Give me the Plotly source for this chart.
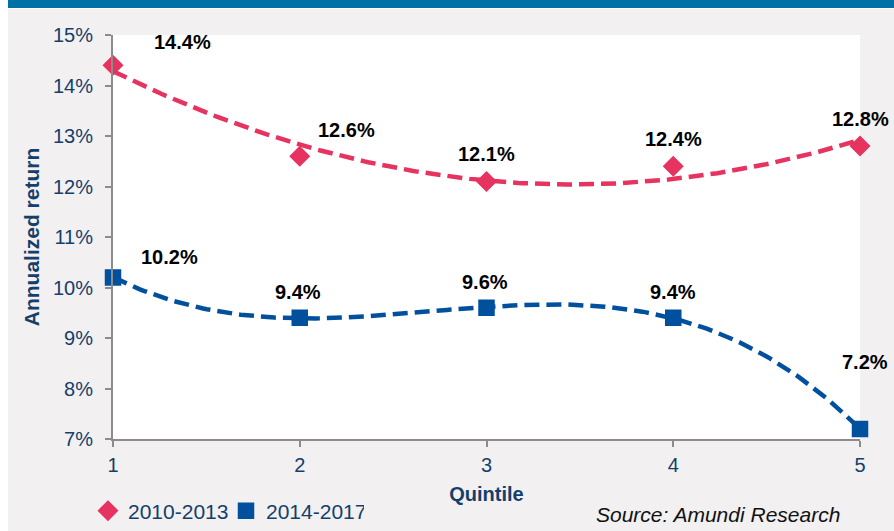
import numpy as np
import plotly.graph_objects as go

# ---- data ----
quintiles = [1, 2, 3, 4, 5]
series_names = ["2010-2013", "2014-2017"]
returns_2010_2013 = [14.4, 12.6, 12.1, 12.4, 12.8]
returns_2014_2017 = [10.2, 9.4, 9.6, 9.4, 7.2]
trend_order_2010_2013 = 2   # polynomial trendline order (as in source chart)
trend_order_2014_2017 = 3
y_ticks = [7, 8, 9, 10, 11, 12, 13, 14, 15]
y_tick_labels = ["7%", "8%", "9%", "10%", "11%", "12%", "13%", "14%", "15%"]
x_ticks = [1, 2, 3, 4, 5]

# ---- styles ----
PINK = "#E6335F"
BLUE = "#00509E"
NAVY = "#143F6B"
BG = "#F2F0F1"
FONT = "Liberation Sans, Arial, sans-serif"

W, H = 894, 531
L, R, T, B = 113, 34, 35, 92
PW = W - L - R
PH = H - T - B


def px_x(p):
    return (p - L) / PW


def px_y(p):
    return (H - B - p) / PH


fig = go.Figure()

x_fit = np.linspace(quintiles[0], quintiles[-1], 200)
for name, vals, order, color in [
    (series_names[0], returns_2010_2013, trend_order_2010_2013, PINK),
    (series_names[1], returns_2014_2017, trend_order_2014_2017, BLUE),
]:
    coef = np.polyfit(quintiles, vals, order)
    fig.add_trace(go.Scatter(
        x=x_fit, y=np.polyval(coef, x_fit), mode="lines",
        line=dict(color=color, width=4.5, dash="15px,7px"),
        showlegend=False, hoverinfo="skip", cliponaxis=False,
    ))

fig.add_trace(go.Scatter(
    x=quintiles, y=returns_2010_2013, mode="markers", name=series_names[0],
    marker=dict(symbol="diamond", size=14, color=PINK,
                line=dict(color=PINK, width=2)),
    cliponaxis=False,
))
fig.add_trace(go.Scatter(
    x=quintiles, y=returns_2014_2017, mode="markers", name=series_names[1],
    marker=dict(symbol="square", size=15, color=BLUE,
                line=dict(color=BLUE, width=1.5)),
    cliponaxis=False,
))

# data labels (pixel offsets from each point)
offsets_a = [(69, 23), (47, 26), (0, 27), (0, 27), (0, 27)]
offsets_b = [(56, 20), (-2, 26), (-2, 26), (0, 26), (5, 67)]
for vals, offs in [(returns_2010_2013, offsets_a), (returns_2014_2017, offsets_b)]:
    for xq, v, (dx, dy) in zip(quintiles, vals, offs):
        fig.add_annotation(
            x=xq, y=v, xref="x", yref="y", text=f"<b>{v:.1f}%</b>",
            showarrow=False, xshift=dx, yshift=dy,
            font=dict(family=FONT, size=20, color="#000000"),
        )

fig.add_annotation(
    x=px_x(842), y=px_y(514), xref="paper", yref="paper",
    xanchor="right", yanchor="middle", showarrow=False,
    text="<i>Source: Amundi Research</i>",
    font=dict(family=FONT, size=21, color="#111111"),
)

# page decoration: white left strip and blue top band
fig.add_shape(type="rect", xref="paper", yref="paper",
              x0=px_x(-2), x1=px_x(8), y0=px_y(H + 2), y1=px_y(-2),
              fillcolor="#FFFFFF", line_width=0, layer="below")
fig.add_shape(type="rect", xref="paper", yref="paper",
              x0=px_x(8), x1=px_x(W + 2), y0=px_y(8), y1=px_y(-2),
              fillcolor="#0070A6", line_width=0, layer="below")
fig.add_shape(type="rect", xref="paper", yref="paper",
              x0=px_x(8), x1=px_x(W + 2), y0=px_y(9), y1=px_y(8),
              fillcolor="#FFFFFF", line_width=0, layer="below")

fig.update_layout(
    width=W, height=H,
    margin=dict(l=L, r=R, t=T, b=B, autoexpand=False),
    paper_bgcolor=BG, plot_bgcolor="#FFFFFF",
    font=dict(family=FONT, color=NAVY),
    showlegend=True,
    legend=dict(
        orientation="h", x=px_x(88), y=px_y(511), xanchor="left", yanchor="middle",
        font=dict(family=FONT, size=21, color=NAVY),
        bgcolor="rgba(0,0,0,0)", itemwidth=30, tracegroupgap=0,
        entrywidth=93, entrywidthmode="pixels",
    ),
    xaxis=dict(
        range=[1, 5], tickvals=x_ticks, showgrid=False, zeroline=False,
        showline=True, linecolor="#8C8C8C", linewidth=2,
        ticks="outside", ticklen=6, tickcolor="#8C8C8C", tickwidth=1.5,
        tickfont=dict(size=20, color=NAVY), ticklabelstandoff=1,
        title=dict(text="<b>Quintile</b>", font=dict(size=20, color=NAVY), standoff=12),
    ),
    yaxis=dict(
        range=[7, 15], tickvals=y_ticks, ticktext=y_tick_labels, showgrid=False,
        zeroline=False, showline=True, linecolor="#8C8C8C", linewidth=2,
        ticks="outside", ticklen=6, tickcolor="#8C8C8C", tickwidth=1.5,
        tickfont=dict(size=20, color=NAVY), ticklabelstandoff=8,
        title=dict(text="<b>Annualized return</b>", font=dict(size=21, color=NAVY), standoff=8),
    ),
)

fig.write_html("out.html", config={"displayModeBar": False})

# remove the browser's default page margin so the figure sits at (0, 0)
with open("out.html", encoding="utf-8") as f:
    html = f.read()
html = html.replace("<head>", "<head><style>html,body{margin:0;padding:0;overflow:hidden;}</style>", 1)
with open("out.html", "w", encoding="utf-8") as f:
    f.write(html)
